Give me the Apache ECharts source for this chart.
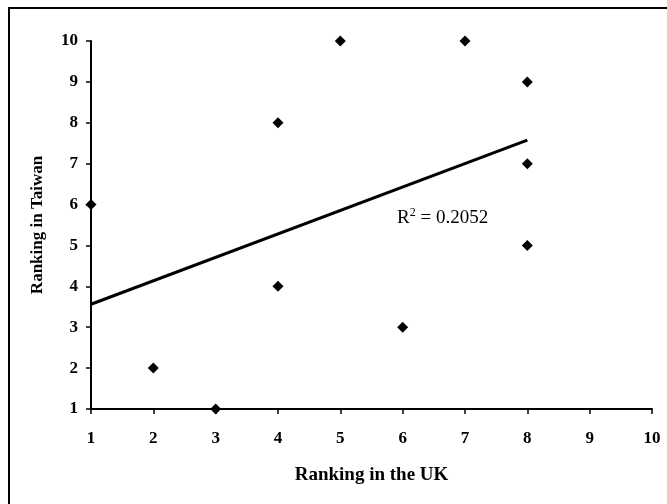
<!DOCTYPE html>
<html>
<head>
<meta charset="utf-8">
<script src="https://cdn.jsdelivr.net/npm/echarts@6/dist/echarts.min.js"></script>
<style>
html,body{margin:0;padding:0;background:#fff;}
#chart{width:667px;height:504px;}
</style>
</head>
<body>
<div id="chart"></div>
<script>
// Data
const ukRank = [1, 2, 3, 4, 4, 5, 6, 7, 8, 8, 8];
const taiwanRank = [6, 2, 1, 8, 4, 10, 3, 10, 9, 7, 5];
const xTitle = 'Ranking in the UK';
const yTitle = 'Ranking in Taiwan';
const axisMin = 1;
const axisMax = 10;

// Least-squares trend line (as drawn by the spreadsheet)
const n = ukRank.length;
const mx = ukRank.reduce((a, b) => a + b, 0) / n;
const my = taiwanRank.reduce((a, b) => a + b, 0) / n;
let sxx = 0, sxy = 0, syy = 0;
for (let i = 0; i < n; i++) {
  sxx += (ukRank[i] - mx) ** 2;
  sxy += (ukRank[i] - mx) * (taiwanRank[i] - my);
  syy += (taiwanRank[i] - my) ** 2;
}
const slope = sxy / sxx;
const intercept = my - slope * mx;
const r2 = (sxy * sxy) / (sxx * syy);
const xLo = Math.min(...ukRank), xHi = Math.max(...ukRank);
const trend = [[xLo, intercept + slope * xLo], [xHi, intercept + slope * xHi]];

const points = ukRank.map((x, i) => [x, taiwanRank[i]]);
const FONT = '"Liberation Serif", "Times New Roman", serif';

const chart = echarts.init(document.getElementById('chart'), null, {renderer: 'canvas'});
chart.setOption({
  animation: false,
  backgroundColor: '#fff',
  grid: {left: 91, right: 15, top: 41, bottom: 95, containLabel: false},
  xAxis: {
    type: 'value', min: axisMin, max: axisMax, interval: 1,
    name: xTitle, nameLocation: 'middle', nameGap: 57,
    nameTextStyle: {fontFamily: FONT, fontWeight: 'bold', fontSize: 19, color: '#000'},
    axisLine: {show: true, lineStyle: {color: '#000', width: 2}},
    axisTick: {show: true, length: 5, lineStyle: {color: '#000', width: 1.5}},
    axisLabel: {fontFamily: FONT, fontWeight: 'bold', fontSize: 17, color: '#000', margin: 21},
    splitLine: {show: false}
  },
  yAxis: {
    type: 'value', min: axisMin, max: axisMax, interval: 1,
    name: yTitle, nameLocation: 'middle', nameGap: 45, nameRotate: 90,
    nameTextStyle: {fontFamily: FONT, fontWeight: 'bold', fontSize: 17, color: '#000'},
    axisLine: {show: true, lineStyle: {color: '#000', width: 2}},
    axisTick: {show: true, length: 5, lineStyle: {color: '#000', width: 1.5}},
    axisLabel: {fontFamily: FONT, fontWeight: 'bold', fontSize: 17, color: '#000', margin: 13},
    splitLine: {show: false}
  },
  graphic: [
    {type: 'rect', z: -10, shape: {x: 9, y: 8, width: 720, height: 620},
     style: {fill: 'none', stroke: '#000', lineWidth: 2}},
    {type: 'text', left: 397, top: 207, z: 10,
     style: {
       text: '{r|R}{s|2}{r| = ' + r2.toFixed(4) + '}',
       rich: {
         r: {fontFamily: FONT, fontSize: 19, fill: '#000', lineHeight: 21, verticalAlign: 'bottom'},
         s: {fontFamily: FONT, fontSize: 12, fill: '#000', lineHeight: 21, verticalAlign: 'top'}
       }
     }}
  ],
  series: [
    {
      type: 'line', data: trend, symbol: 'none', silent: true,
      lineStyle: {color: '#000', width: 3}, z: 3
    },
    {
      type: 'scatter', data: points, symbol: 'diamond', symbolSize: 11,
      itemStyle: {color: '#000', opacity: 1}, z: 4
    }
  ]
});
</script>
</body>
</html>
